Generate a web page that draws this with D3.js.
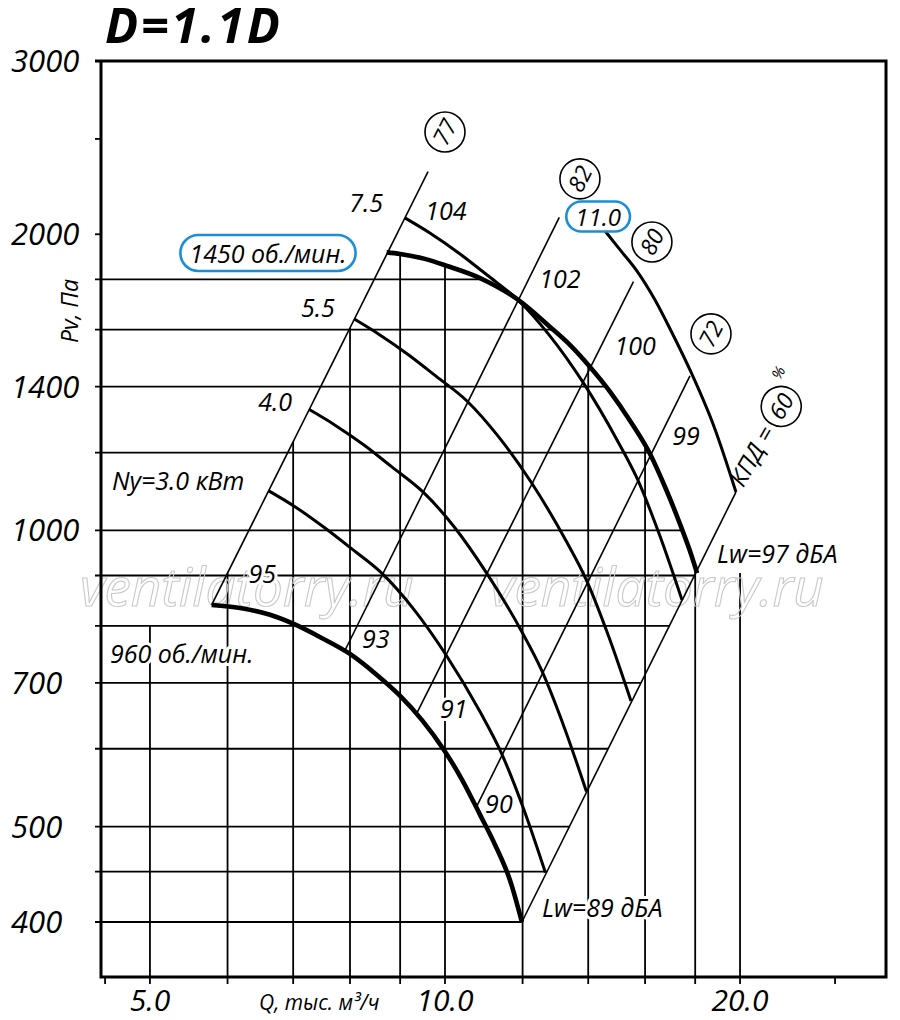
<!DOCTYPE html>
<html><head><meta charset="utf-8">
<script src="https://cdn.jsdelivr.net/npm/d3@7/dist/d3.min.js"></script>
<style>
body{margin:0;background:#fff;}
svg{display:block;}
text{font-family:"Open Sans","Noto Sans",sans-serif;font-style:italic;fill:#000;}
</style></head><body>
<svg id="c" width="900" height="1020"></svg>
<script>
// ---------- DATA ----------
const qTicks = [4.5,5,6,7,8,9,10,12,14,16,18,20,25];
const qGrid = [5,6,7,8,9,10,12,14,16,18,20];
const qLabelVals = [5,10,20];
const qLabelText = ["5.0","10.0","20.0"];
const pTicks = [3000,2500,2000,1800,1600,1400,1200,1000,900,800,700,600,500,450,400];
const pGrid = [1800,1600,1400,1200,1000,900,800,700,600,500,450,400];
const pLabelVals = [3000,2000,1400,1000,700,500,400];
const gridLeftTopP = 800;

// fan curves (Q, тыс. м3/ч ; Pv, Па)
const q960 = [5.78,6.18,6.63,7.00,7.46,8.00,8.48,9.00,9.47,9.98,10.41,10.86,11.25,11.65,11.98];
const p960 = [840,834,821,804,779,749,716,679,642,598,558,514,479,441,400];
const q1450 = [8.72,9.00,9.54,10.05,10.86,11.84,12.80,13.41,14.06,14.74,15.45,16.19,16.77,17.37,17.78,18.08];
const p1450 = [1917,1910,1888,1857,1805,1719,1610,1544,1466,1383,1292,1196,1107,1015,953,905];

// constant motor power curves (kW)
const qN30 = [6.61,7.01,7.52,8.01,8.62,9.29,10.01,10.87,11.39,12.03,12.66];
const pN30 = [1097,1059,1008,960,905,832,749,653,597,521,449];
const qN40 = [7.27,7.71,8.28,8.82,9.49,10.23,11.02,11.97,12.54,13.24,13.94];
const pN40 = [1327,1281,1220,1161,1095,1007,906,790,722,630,543];
const qN55 = [8.08,8.56,9.19,9.79,10.53,11.35,12.24,13.29,13.93,14.70,15.48];
const pN55 = [1640,1583,1507,1435,1354,1244,1120,976,892,779,671];
const qN75 = [9.10,9.65,10.36,11.04,11.87,12.80,13.80,14.98,15.70,16.57,17.45];
const pN75 = [2078,2006,1910,1818,1715,1576,1419,1236,1130,987,850];
const qN110 = [14.56,15.09,15.70,16.38,17.01,17.82,18.82,19.81];
const pN110 = [2016,1928,1835,1715,1595,1449,1274,1094];

// efficiency (КПД) lines: bottom point and top point
const effValues = ["77","82","80","72","60"];
const effQ0 = [5.78,7.91,9.36,10.78,11.98];
const effP0 = [840,756,652,525,400];
const effQ1 = [9.61,13.08,15.57,17.78,19.81];
const effP1 = [2316,2081,1790,1436,1094];
const effCircleQ = [10.0,13.73,16.26,18.68];
const effCircleP = [2541,2277,1964,1584];
const kpdLabelQ = 20.10, kpdLabelP = 1099;

// annotations
const noteText = ["7.5","104","5.5","4.0","Ny=3.0 кВт","95","960 об./мин.","93","91","90","Lw=89 дБА","Lw=97 дБА","99","100","102"];
const noteQ = [8.31,10.02,7.42,6.71,4.573,6.51,4.552,8.50,10.21,11.35,12.56,18.95,17.62,15.63,13.10];
const noteP = [2107,2068,1648,1323,1099,884,733.5,759.6,644.7,516.2,404.6,926.7,1222,1508,1764];
const noteAnchor = ["middle","middle","middle","middle","start","middle","start","middle","middle","middle","start","start","middle","middle","middle"];
const boxText = ["1450 об./мин.","11.0"];
const boxQ = [6.598,14.33];
const boxP = [1870,2039];

// ---------- DRAW ----------
const svg = d3.select('#c');
const x = d3.scaleLog().domain([4.457, 28.18]).range([101, 886]);
const y = d3.scaleLog().domain([351.7, 3000]).range([977, 61]);
const L = Math.log;
function interpLog(xs, ys, v){
  for(let i=0;i<xs.length-1;i++){
    const a=xs[i], b=xs[i+1];
    if((v-a)*(v-b)<=0){
      const t=(L(v)-L(a))/(L(b)-L(a));
      return Math.exp(L(ys[i])+t*(L(ys[i+1])-L(ys[i])));
    }
  }
  return null;
}
const iE = 4, iA = 0;
const gGrid = svg.append('g').attr('stroke','#000').attr('stroke-width',1.8);
// horizontal grid
pGrid.forEach(p=>{
  let qEnd;
  if(p >= p1450[p1450.length-1]) qEnd = interpLog(p1450, q1450, p);
  else qEnd = interpLog([effP0[iE],effP1[iE]],[effQ0[iE],effQ1[iE]], p);
  gGrid.append('line').attr('x1',95).attr('x2',x(qEnd)).attr('y1',y(p)).attr('y2',y(p));
});
// vertical grid
qGrid.forEach(q=>{
  let pTop;
  if(q < effQ0[iA]) pTop = gridLeftTopP;
  else if(q <= q1450[0]) pTop = interpLog([effQ0[iA],effQ1[iA]],[effP0[iA],effP1[iA]], q);
  else if(q <= q1450[q1450.length-1]) pTop = interpLog(q1450, p1450, q);
  else pTop = p1450[p1450.length-1];
  gGrid.append('line').attr('x1',x(q)).attr('x2',x(q)).attr('y1',y(pTop)).attr('y2',984);
});
// extra ticks
qTicks.filter(q=>!qGrid.includes(q)).forEach(q=>{
  gGrid.append('line').attr('x1',x(q)).attr('x2',x(q)).attr('y1',977).attr('y2',984);
});
pTicks.filter(p=>!pGrid.includes(p)).forEach(p=>{
  gGrid.append('line').attr('x1',95).attr('x2',101).attr('y1',y(p)).attr('y2',y(p));
});

// watermark
[80,490].forEach(wx=>{
  svg.append('text').attr('x',wx).attr('y',606).attr('font-size',53)
    .style('fill','none').attr('stroke','#c9c9c9').attr('stroke-width',1.1)
    .text('ventilatorry.ru');
});

// frame
svg.append('path').attr('fill','none').attr('stroke','#000').attr('stroke-width',3)
  .attr('d',`M95,${y(3000)}H${x.range()[1]}V${y.range()[0]}H${x.range()[0]}V${y(3000)}`);

// efficiency lines
effValues.forEach((v,i)=>{
  svg.append('line').attr('stroke','#000').attr('stroke-width',1.6)
    .attr('x1',x(effQ0[i])).attr('y1',y(effP0[i])).attr('x2',x(effQ1[i])).attr('y2',y(effP1[i]));
});

const line = d3.line().x(d=>x(d[0])).y(d=>y(d[1])).curve(d3.curveMonotoneX);
function curve(qs, ps, w){
  svg.append('path').attr('fill','none').attr('stroke','#000').attr('stroke-width',w)
    .attr('stroke-linecap','butt').attr('d', line(qs.map((q,i)=>[q,ps[i]])));
}
[[qN30,pN30],[qN40,pN40],[qN55,pN55],[qN75,pN75],[qN110,pN110]].forEach(c=>curve(c[0],c[1],3));
curve(q960,p960,4.6);
curve(q1450,p1450,4.6);

// axis tick labels
qLabelVals.forEach((q,i)=>{
  svg.append('text').attr('x',x(q)).attr('y',1011).attr('text-anchor','middle').attr('font-size',30).text(qLabelText[i]);
});
pLabelVals.forEach(p=>{
  svg.append('text').attr('x',11).attr('y',y(p)+11).attr('font-size',31).text(p);
});
svg.append('text').attr('x',259).attr('y',1010).attr('font-size',21).text('Q, тыс. м³/ч');
svg.append('text').attr('transform','translate(78,311) rotate(-90)').attr('text-anchor','middle').attr('font-size',23).text('Pv, Па');
svg.append('text').attr('x',105).attr('y',43).attr('font-size',49).attr('font-weight',700)
  .attr('letter-spacing',2.5).text('D=1.1D');

// annotations with white halo
noteText.forEach((t,i)=>{
  svg.append('text').attr('x',x(noteQ[i])).attr('y',y(noteP[i])).attr('text-anchor',noteAnchor[i])
    .attr('font-size',25).attr('stroke','#fff').attr('stroke-width',6).attr('stroke-linejoin','round')
    .attr('paint-order','stroke').text(t);
});
// boxed labels
boxText.forEach((t,i)=>{
  const g = svg.append('g');
  const r = g.append('rect');
  const tx = g.append('text').attr('x',x(boxQ[i])).attr('y',y(boxP[i])).attr('text-anchor','middle')
    .attr('font-size',i===0?25:24).text(t);
  const bb = tx.node().getBBox();
  const px = 9, py = i===0?1:-1.5;
  r.attr('x',bb.x-px).attr('y',bb.y-py).attr('width',bb.width+2*px).attr('height',bb.height+2*py)
    .attr('rx',(bb.height+2*py)/2).attr('fill','#fff').attr('stroke','#1a8ed8').attr('stroke-width',2.6);
});
// efficiency circles
effCircleQ.forEach((q,i)=>{
  const g = svg.append('g').attr('transform',`translate(${x(q)},${y(effCircleP[i])})`);
  g.append('circle').attr('r',20).attr('fill','#fff').attr('stroke','#000').attr('stroke-width',1.6);
  g.append('text').attr('transform','rotate(-63)').attr('text-anchor','middle').attr('dy','0.36em')
    .attr('font-size',23).text(effValues[i]);
});
// КПД = 60 %
{
  const g = svg.append('g').attr('transform',`translate(${x(kpdLabelQ)},${y(kpdLabelP)}) rotate(-60)`);
  g.append('text').attr('x',2).attr('y',0).attr('font-size',24).text('КПД =');
  g.append('circle').attr('cx',92).attr('cy',-8).attr('r',20).attr('fill','#fff').attr('stroke','#000').attr('stroke-width',1.6);
  g.append('text').attr('x',92).attr('y',-8).attr('dy','0.36em').attr('text-anchor','middle').attr('font-size',23).text(effValues[4]);
  g.append('text').attr('x',114).attr('y',-22).attr('font-size',15).text('%');
}
</script>
</body></html>
